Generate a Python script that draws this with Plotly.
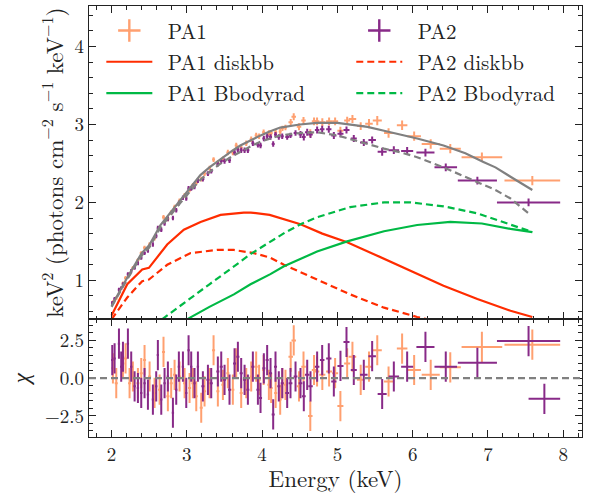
import plotly.graph_objects as go
from plotly.subplots import make_subplots

# ---------------- data ----------------
pa1_E = [2.018, 2.062, 2.151, 2.186, 2.239, 2.283, 2.350, 2.394, 2.438, 2.505,
         2.571, 2.638, 2.690, 2.748, 2.792, 2.837, 2.903, 2.970, 3.036, 3.080,
         3.125, 3.191, 3.235, 3.302, 3.355, 3.412, 3.479, 3.545, 3.611, 3.656,
         3.722, 3.789, 3.855, 3.921, 3.960, 4.020, 4.090, 4.120, 4.180, 4.240,
         4.270, 4.310, 4.380, 4.420, 4.490, 4.550, 4.640, 4.690, 4.730, 4.800,
         4.890, 4.970, 5.040, 5.130, 5.200, 5.310, 5.420, 5.530, 5.680, 5.860,
         6.020, 6.240, 6.500, 6.920, 7.590]
pa1_dE = [0.02] * 42 + [0.03] * 7 + [0.04] * 5 + [0.05, 0.05, 0.05, 0.06, 0.06, 0.07,
                                                   0.09, 0.12, 0.14, 0.27, 0.37]
pa1_flux = [0.72, 0.77, 0.96, 1.03, 1.08, 1.16, 1.26, 1.35, 1.42, 1.46,
            1.54, 1.67, 1.81, 1.79, 1.87, 1.94, 2.02, 2.09, 2.16, 2.22,
            2.25, 2.30, 2.37, 2.44, 2.55, 2.51, 2.56, 2.64, 2.64, 2.73,
            2.70, 2.76, 2.81, 2.86, 2.85, 2.90, 2.89, 2.89, 2.90, 2.91,
            2.95, 2.96, 3.03, 3.10, 2.97, 3.05, 2.89, 3.04, 3.04, 3.03,
            3.04, 3.04, 2.92, 3.05, 3.07, 2.98, 3.01, 3.05, 2.89, 2.99,
            2.85, 2.75, 2.69, 2.58, 2.28]
pa1_ferr = [0.025] * 9 + [0.03] * 18 + [0.035] * 15 + [0.04, 0.045, 0.045, 0.045] + \
           [0.05] * 10 + [0.06] * 9
pa1_chi = [0.65, -0.33, 0.98, 1.31, -0.33, 0.11, -0.33, 0.33, 1.20, 0.11,
           -0.98, -0.76, 1.74, -1.20, -0.33, 0.22, 0.11, -0.33, -0.65, -0.33,
           -1.20, -1.96, -0.87, -0.33, 1.85, -0.87, -0.44, 0.33, -0.76, 0.98,
           -0.98, -0.33, 0.11, 0.76, -0.11, 0.54, -0.44, -0.65, -0.98, -1.42,
           -0.33, -0.44, 1.42, 2.50, -0.54, 0.76, -2.50, 0.54, 0.44, 0.22,
           0.44, 0.33, -1.85, 0.98, 1.42, -0.11, 0.76, 1.85, -0.22, 1.96,
           0.54, 0.22, 0.72, 2.07, 2.22]

pa2_E = [2.009, 2.040, 2.098, 2.128, 2.151, 2.217, 2.261, 2.306, 2.350, 2.394,
         2.438, 2.483, 2.549, 2.593, 2.615, 2.660, 2.704, 2.748, 2.815, 2.859,
         2.894, 2.948, 2.992, 3.023, 3.058, 3.102, 3.147, 3.213, 3.280, 3.324,
         3.412, 3.457, 3.501, 3.567, 3.634, 3.678, 3.722, 3.767, 3.811, 3.877,
         3.944, 3.979, 4.023, 4.067, 4.112, 4.147, 4.178, 4.222, 4.267, 4.333,
         4.377, 4.444, 4.510, 4.554, 4.599, 4.643, 4.731, 4.798, 4.886, 4.953,
         5.041, 5.121, 5.218, 5.351, 5.462, 5.595, 5.750, 5.927, 6.170, 6.440,
         6.860, 7.540, 7.750]
pa2_dE = [0.015] * 27 + [0.02] * 22 + [0.025] * 5 + [0.03] * 4 + [0.035, 0.035] + \
         [0.04, 0.04, 0.04, 0.05, 0.05, 0.06, 0.07, 0.08, 0.12, 0.15, 0.26, 0.42, 0.21]
pa2_flux = [0.71, 0.76, 0.88, 0.90, 0.95, 1.08, 1.12, 1.16, 1.22, 1.29,
            1.35, 1.38, 1.46, 1.57, 1.67, 1.65, 1.73, 1.79, 1.80, 1.90,
            1.99, 2.06, 2.05, 2.18, 2.18, 2.20, 2.28, 2.30, 2.37, 2.40,
            2.49, 2.53, 2.53, 2.54, 2.64, 2.68, 2.67, 2.67, 2.67, 2.76,
            2.74, 2.73, 2.82, 2.85, 2.84, 2.75, 2.87, 2.84, 2.85, 2.84,
            2.86, 2.89, 2.87, 2.84, 2.90, 2.87, 2.93, 2.94, 2.94, 2.86,
            2.88, 2.93, 2.82, 2.77, 2.80, 2.65, 2.67, 2.66, 2.64, 2.45,
            2.28, 2.00, None]
pa2_ferr = [0.025] * 12 + [0.03] * 20 + [0.035] * 20 + [0.045] * 13 + [0.05] * 7 + [None]
pa2_chi = [1.20, 1.31, 2.29, 0.76, 1.42, 2.29, 0.76, -0.54, -0.65, -0.98,
           -0.33, -1.09, -1.42, -0.54, 1.53, -1.42, -0.33, 0.11, -2.29, -0.76,
           0.76, 0.76, -0.98, 1.85, 0.76, -0.33, 0.76, -0.54, -0.11, -0.33,
           0.44, 0.76, -0.11, -0.76, 0.98, 1.42, 0.33, -0.11, -0.76, 0.76,
           -0.76, -1.31, 0.65, 1.20, 0.33, -2.40, 0.76, -0.54, -0.33, -0.98,
           -0.33, 0.11, -0.33, -1.20, 0.22, -0.54, 0.76, 1.20, 1.31, -0.22,
           0.81, 2.40, 0.54, 0.22, 1.46, -1.05, 0.11, 0.76, 2.07, 0.76,
           1.02, 2.46, -1.37]

# model curves
tot1_E = [2.0, 2.2, 2.4, 2.5, 2.65, 2.8, 2.92, 3.05, 3.18, 3.3, 3.45, 3.6, 3.71, 3.85,
          3.98, 4.1, 4.24, 4.5, 4.73, 5.0, 5.17, 5.4, 5.62, 5.85, 6.06, 6.41, 6.7,
          6.94, 7.1, 7.3, 7.59]
tot1_y = [0.67, 1.02, 1.35, 1.45, 1.71, 1.89, 2.04, 2.2, 2.35, 2.45, 2.56, 2.66, 2.73,
          2.80, 2.86, 2.91, 2.96, 3.0, 3.02, 3.02, 3.0, 2.97, 2.92, 2.87, 2.82, 2.73,
          2.63, 2.52, 2.45, 2.33, 2.16]
tot2_E = [2.0, 2.2, 2.4, 2.5, 2.65, 2.8, 2.92, 3.05, 3.18, 3.3, 3.45, 3.6, 3.71, 3.85,
          3.98, 4.1, 4.24, 4.5, 4.73, 5.0, 5.17, 5.4, 5.62, 5.85, 6.06, 6.41, 6.86,
          7.1, 7.3, 7.54]
tot2_y = [0.66, 1.0, 1.32, 1.42, 1.68, 1.85, 2.0, 2.15, 2.29, 2.39, 2.50, 2.59, 2.65,
          2.72, 2.78, 2.82, 2.86, 2.89, 2.90, 2.86, 2.81, 2.75, 2.69, 2.64, 2.58, 2.45,
          2.26, 2.16, 2.05, 1.86]
disk1_E = [2.0, 2.208, 2.407, 2.496, 2.739, 2.96, 3.182, 3.448, 3.757, 3.85, 4.1, 4.3,
           4.51, 4.8, 5.13, 5.5, 5.97, 6.41, 6.86, 7.3, 7.59]
disk1_y = [0.55, 0.95, 1.14, 1.16, 1.46, 1.65, 1.75, 1.84, 1.87, 1.87, 1.84, 1.78,
           1.72, 1.60, 1.49, 1.33, 1.12, 0.93, 0.76, 0.61, 0.53]
disk2_E = [2.0, 2.208, 2.407, 2.496, 2.739, 3.05, 3.40, 3.625, 3.89, 4.11, 4.29, 4.73,
           5.17, 5.62, 6.06, 6.35]
disk2_y = [0.50, 0.78, 0.99, 1.01, 1.20, 1.35, 1.39, 1.39, 1.35, 1.29, 1.20, 1.01,
           0.82, 0.65, 0.53, 0.47]
bb1_E = [3.0, 3.3, 3.625, 3.846, 4.11, 4.29, 4.73, 5.13, 5.62, 6.06, 6.5, 6.92, 7.3, 7.59]
bb1_y = [0.50, 0.66, 0.82, 0.95, 1.08, 1.18, 1.37, 1.50, 1.63, 1.71, 1.75, 1.73, 1.66, 1.62]
bb2_E = [2.67, 3.0, 3.3, 3.6, 3.85, 4.1, 4.3, 4.51, 4.73, 5.17, 5.62, 5.97, 6.41, 6.86,
         7.3, 7.59]
bb2_y = [0.50, 0.74, 0.95, 1.16, 1.34, 1.49, 1.61, 1.72, 1.81, 1.94, 2.0, 2.0, 1.95,
         1.86, 1.71, 1.62]

# ---------------- style ----------------
C_PA1 = "#FFA070"
C_PA2 = "#882A88"
C_RED = "#FF2C00"
C_GRN = "#00B945"
C_GRY = "#808080"
C_AX = "#222222"
FONT = "Latin Modern Roman, Liberation Serif, serif"
DASH = "7px,4px"
PAD = "\u00a0"

fig = make_subplots(rows=2, cols=1, shared_xaxes=True, vertical_spacing=0,
                    row_heights=[0.727, 0.273])

def data_trace(E, dE, y, yerr, color):
    return go.Scatter(x=E, y=y, mode="markers", marker=dict(size=0.1, color=color),
                      error_x=dict(type="data", array=dE, color=color, thickness=2, width=0),
                      error_y=dict(type="data", array=yerr, color=color, thickness=2, width=0),
                      showlegend=False, hoverinfo="skip")

fig.add_trace(data_trace(pa1_E, pa1_dE, pa1_flux, pa1_ferr, C_PA1), row=1, col=1)
fig.add_trace(data_trace(pa2_E, pa2_dE, pa2_flux, pa2_ferr, C_PA2), row=1, col=1)

def line(E, y, color, dash, name=None, legend="legend"):
    return go.Scatter(x=E, y=y, mode="lines", name=(PAD + name) if name else None,
                      legend=legend, legendgroup=name, showlegend=name is not None,
                      line=dict(color=color, width=2.2, dash=dash))

# legend-only entries for data
for name, color, lg in [("PA1", C_PA1, "legend"), ("PA2", C_PA2, "legend2")]:
    fig.add_trace(go.Scatter(x=[None], y=[None], mode="markers", name=PAD + name,
                             legend=lg, legendgroup=name,
                             marker=dict(symbol="cross-thin", size=21,
                                         line=dict(color=color, width=2.4))),
                  row=1, col=1)

fig.add_trace(line(tot1_E, tot1_y, C_GRY, "solid"), row=1, col=1)
fig.add_trace(line(tot2_E, tot2_y, C_GRY, DASH), row=1, col=1)
fig.add_trace(line(disk1_E, disk1_y, C_RED, "solid", "PA1 diskbb", "legend"), row=1, col=1)
fig.add_trace(line(disk2_E, disk2_y, C_RED, DASH, "PA2 diskbb", "legend2"), row=1, col=1)
fig.add_trace(line(bb1_E, bb1_y, C_GRN, "solid", "PA1 Bbodyrad", "legend"), row=1, col=1)
fig.add_trace(line(bb2_E, bb2_y, C_GRN, DASH, "PA2 Bbodyrad", "legend2"), row=1, col=1)

# residuals
for E, dE, chi, color in [(pa1_E, pa1_dE, pa1_chi, C_PA1), (pa2_E, pa2_dE, pa2_chi, C_PA2)]:
    fig.add_trace(go.Scatter(x=E, y=chi, mode="markers", marker=dict(size=0.1, color=color),
                             error_x=dict(type="data", array=dE, color=color, thickness=2, width=0),
                             error_y=dict(type="constant", value=1, color=color, thickness=2, width=0),
                             showlegend=False, hoverinfo="skip"), row=2, col=1)

fig.add_shape(type="line", xref="x2 domain", x0=0, x1=1, yref="y2", y0=0, y1=0,
              line=dict(color=C_GRY, width=2.2, dash=DASH), layer="above")

axcommon = dict(showline=True, linecolor=C_AX, linewidth=1.3, mirror="allticks",
                ticks="inside", ticklen=7, tickwidth=1.2, tickcolor=C_AX,
                showgrid=False, zeroline=False)
minor_common = dict(ticks="inside", ticklen=3.5, tickcolor=C_AX, tickwidth=1)

fig.update_xaxes(range=[1.7, 8.25], dtick=1, tick0=0,
                 minor=dict(dtick=0.2, tick0=0, **minor_common), **axcommon)
fig.update_xaxes(showticklabels=False, row=1, col=1)
fig.update_xaxes(title=dict(text="Energy (keV)", standoff=6), row=2, col=1)

fig.update_yaxes(range=[0.5, 4.52], tickvals=[1, 2, 3, 4],
                 minor=dict(dtick=0.2, tick0=0, **minor_common),
                 title=dict(text="keV<sup>2</sup> (photons cm<sup>−2</sup> s<sup>−1</sup> keV<sup>−1</sup>)",
                            standoff=4),
                 row=1, col=1, **axcommon)
fig.update_yaxes(range=[-3.9, 3.9], tickvals=[-2.5, 0, 2.5], tickformat=".1f",
                 minor=dict(dtick=0.5, tick0=0, **minor_common),
                 title=dict(text="<i>χ</i>", standoff=8),
                 row=2, col=1, **axcommon)

legcommon = dict(orientation="v", y=0.99, xanchor="left", yanchor="top",
                 bgcolor="rgba(0,0,0,0)", font=dict(size=21, family=FONT),
                 traceorder="grouped", tracegroupgap=1, itemwidth=46)

fig.update_layout(
    width=597, height=494,
    margin=dict(l=89, r=15, t=5, b=53),
    plot_bgcolor="white", paper_bgcolor="white",
    font=dict(family=FONT, size=19, color="#222"),
    legend=dict(x=0.025, **legcommon),
    legend2=dict(x=0.532, **legcommon),
)

fig.write_html("out.html")
